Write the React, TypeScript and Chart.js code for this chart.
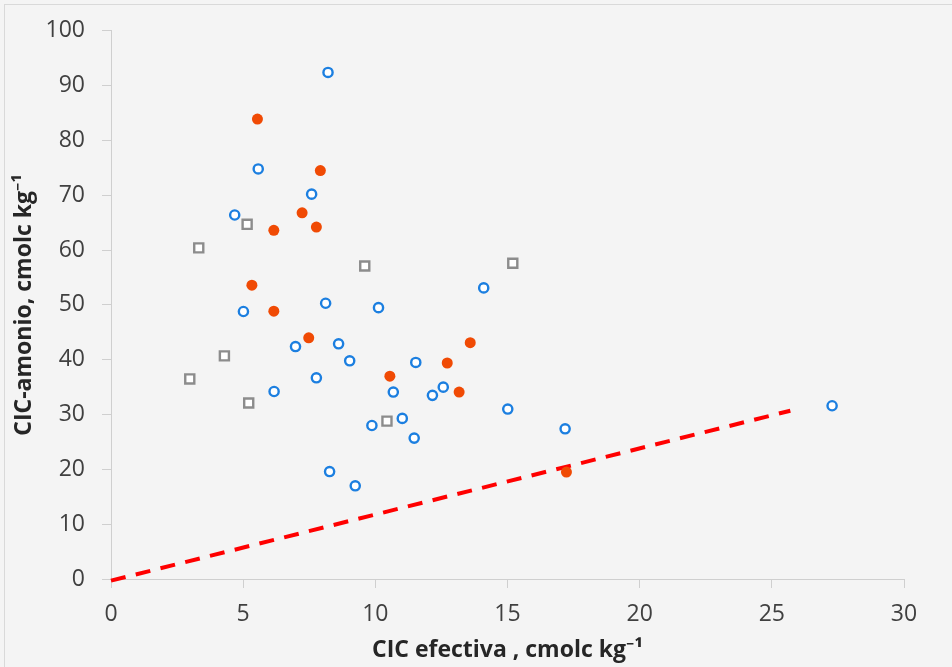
import React, { useEffect, useRef } from "react";
import { Chart, registerables } from "chart.js";

Chart.register(...registerables);

// Blue open circles
const blueX = [8.21, 5.57, 7.59, 4.68, 5.01, 8.12, 10.12, 6.98, 8.61, 9.03, 7.77, 10.68, 6.17, 9.87, 8.27, 9.24, 14.1, 11.53, 12.57, 12.16, 11.02, 11.47, 15.01, 17.18, 27.28];
const blueY = [92.4, 74.8, 70.2, 66.4, 48.8, 50.3, 49.5, 42.4, 42.9, 39.8, 36.7, 34.1, 34.2, 28.0, 19.6, 17.0, 53.1, 39.5, 35.0, 33.5, 29.3, 25.7, 31.0, 27.4, 31.6];

// Orange filled circles
const orangeX = [5.54, 7.92, 7.23, 6.16, 7.77, 5.33, 6.16, 7.48, 10.55, 13.59, 12.72, 13.17, 17.23];
const orangeY = [83.9, 74.5, 66.8, 63.6, 64.2, 53.6, 48.85, 44.0, 37.0, 43.1, 39.4, 34.1, 19.5];

// Gray open squares
const grayX = [3.32, 5.15, 9.6, 4.29, 2.98, 5.21, 10.44, 15.2];
const grayY = [60.4, 64.7, 57.1, 40.7, 36.5, 32.1, 28.8, 57.6];

// Dashed reference line
const lineX = [0, 25.7];
const lineY = [-0.3, 30.7];

const xTitle = "CIC efectiva , cmolc kg\u207B\u00B9";
const yTitle = "CIC-amonio, cmolc kg\u207B\u00B9";

const FONT = "'Open Sans', 'Noto Sans', sans-serif";

const pts = (xs: number[], ys: number[]) => xs.map((x, i) => ({ x, y: ys[i] }));

export default function App() {
  const ref = useRef<HTMLCanvasElement | null>(null);

  useEffect(() => {
    if (!ref.current) return;
    const chart = new Chart(ref.current, {
      type: "scatter",
      data: {
        datasets: [
          {
            label: "blue",
            data: pts(blueX, blueY),
            pointStyle: "circle",
            pointRadius: 4.6,
            borderWidth: 2.4,
            borderColor: "#1c7fe0",
            backgroundColor: "#ffffff",
          },
          {
            label: "orange",
            data: pts(orangeX, orangeY),
            pointStyle: "circle",
            pointRadius: 5.5,
            borderWidth: 0,
            borderColor: "#f04a04",
            backgroundColor: "#f04a04",
          },
          {
            label: "gray",
            data: pts(grayX, grayY),
            pointStyle: "rect",
            pointRadius: 6.4,
            borderWidth: 2.4,
            borderColor: "#8c8c8c",
            backgroundColor: "#ffffff",
          },
          {
            label: "line",
            data: pts(lineX, lineY),
            showLine: true,
            pointRadius: 0,
            borderColor: "#ff0000",
            borderWidth: 4,
            borderDash: [15, 10.5],
            borderCapStyle: "butt",
            clip: false as any,
          } as any,
        ],
      },
      options: {
        animation: false,
        responsive: false,
        devicePixelRatio: 1,
        layout: { padding: { left: 4, top: 29, right: 48, bottom: 0 } },
        plugins: { legend: { display: false }, tooltip: { enabled: false } },
        scales: {
          x: {
            type: "linear",
            min: 0,
            max: 30,
            ticks: {
              stepSize: 5,
              padding: 13,
              color: "#404040",
              font: { family: FONT, size: 23 },
            },
            grid: {
              drawOnChartArea: false,
              drawTicks: true,
              tickLength: 9,
              color: "#cfcfcf",
            },
            border: { display: true, color: "#cfcfcf", width: 1 },
            title: {
              display: true,
              text: xTitle,
              color: "#262626",
              font: { family: FONT, size: 23, weight: "bold" },
              padding: { top: 0, bottom: 3 },
            },
            afterFit: (s: any) => {
              s.height = 88;
            },
          },
          y: {
            type: "linear",
            min: 0,
            max: 100,
            ticks: {
              stepSize: 10,
              padding: 17,
              color: "#404040",
              font: { family: FONT, size: 23 },
            },
            grid: {
              drawOnChartArea: false,
              drawTicks: true,
              tickLength: 9,
              color: "#cfcfcf",
            },
            border: { display: true, color: "#cfcfcf", width: 1 },
            title: {
              display: true,
              text: yTitle,
              color: "#262626",
              font: { family: FONT, size: 23, weight: "bold" },
              padding: { top: 7, bottom: 0 },
            },
            afterFit: (s: any) => {
              s.width = 107;
            },
          },
        },
      } as any,
    });
    return () => chart.destroy();
  }, []);

  return (
    <div
      style={{
        position: "fixed",
        left: 0,
        top: 0,
        width: 952,
        height: 667,
        background: "#f4f4f4",
        overflow: "hidden",
      }}
    >
      <div
        style={{
          position: "absolute",
          left: 4,
          top: 4,
          width: 1000,
          height: 700,
          border: "1px solid #d9d9d9",
          background: "#f4f4f4",
        }}
      />
      <canvas
        ref={ref}
        width={952}
        height={667}
        style={{ position: "absolute", left: 0, top: 0, display: "block" }}
      />
    </div>
  );
}
